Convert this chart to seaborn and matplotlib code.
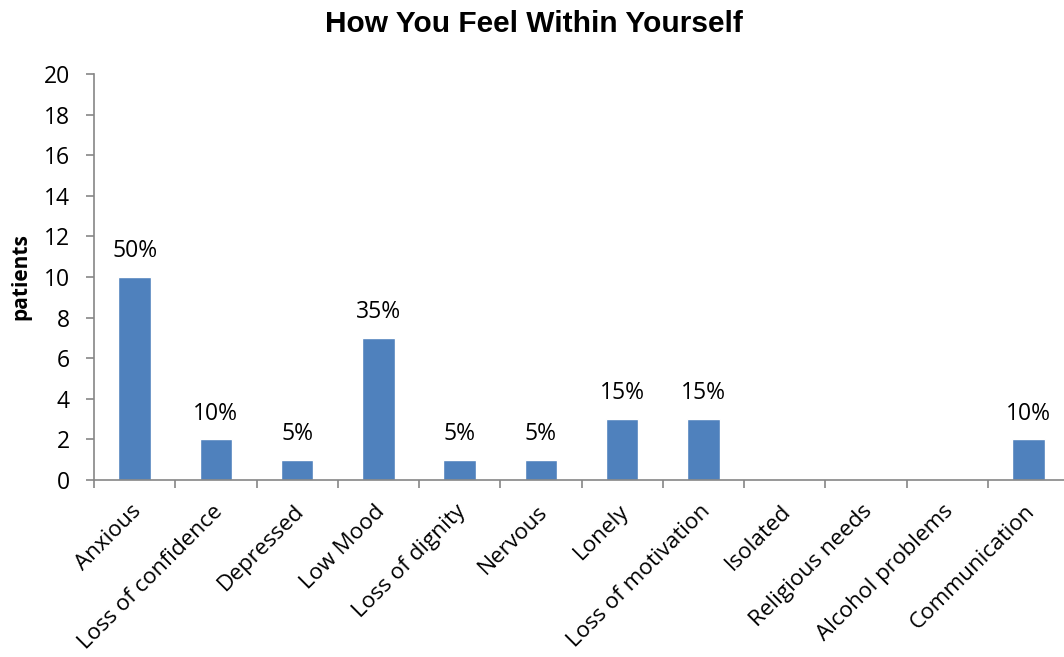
import matplotlib
matplotlib.use("Agg")
import matplotlib.pyplot as plt
from matplotlib.ticker import FixedLocator, MultipleLocator
from matplotlib.transforms import ScaledTranslation
import seaborn as sns
import pandas as pd

categories = ["Anxious", "Loss of confidence", "Depressed", "Low Mood",
              "Loss of dignity", "Nervous", "Lonely", "Loss of motivation",
              "Isolated", "Religious needs", "Alcohol problems", "Communication"]
patients = [10, 2, 1, 7, 1, 1, 3, 3, 0, 0, 0, 2]
total_patients = 20

title_text = "How You Feel Within Yourself"
y_label = "patients"

bar_color = "#4F81BD"
axis_color = "#868686"

sns.set_theme(style="white")
plt.rcParams["font.family"] = ["Open Sans", "DejaVu Sans"]
plt.rcParams["text.color"] = "black"
plt.rcParams["xtick.color"] = "black"
plt.rcParams["ytick.color"] = "black"
plt.rcParams["axes.labelcolor"] = "black"

df = pd.DataFrame({"category": categories, "patients": patients})

fig = plt.figure(figsize=(10.64, 6.57), dpi=100)
ax = fig.add_axes([94 / 1064, 1 - 480 / 657, 975 / 1064, 406 / 657])

sns.barplot(data=df, x="category", y="patients", color=bar_color,
            width=0.4, saturation=1, ax=ax)

ax.set_xlim(-0.5, len(categories) - 0.5)
ax.set_ylim(0, 20)
ax.yaxis.set_major_locator(MultipleLocator(2))

# value labels as share of all patients
for i, v in enumerate(patients):
    if v > 0:
        ax.annotate(f"{v / total_patients * 100:.0f}%", (i, v),
                    xytext=(0, 10), textcoords="offset points",
                    ha="center", va="bottom", fontsize=16.5, color="black")

# category separators as tick marks
ax.xaxis.set_minor_locator(FixedLocator([k - 0.5 for k in range(len(categories) + 1)]))
ax.tick_params(axis="x", which="major", length=0, pad=15)
ax.tick_params(axis="x", which="minor", length=6, width=1.2, color=axis_color,
               direction="out", bottom=True)
ax.tick_params(axis="y", which="major", length=6, width=1.2, color=axis_color,
               direction="out", left=True, labelsize=16.5, pad=11.5, labelcolor="black")
shift = ScaledTranslation(-4 / 100, 0, fig.dpi_scale_trans)
for lbl in ax.get_xticklabels():
    lbl.set_rotation(45)
    lbl.set_ha("right")
    lbl.set_rotation_mode("anchor")
    lbl.set_fontsize(16.2)
    lbl.set_color("black")
    lbl.set_transform(lbl.get_transform() + shift)

for side in ["top", "right"]:
    ax.spines[side].set_visible(False)
for side in ["left", "bottom"]:
    ax.spines[side].set_color(axis_color)
    ax.spines[side].set_linewidth(1.2)

ax.set_xlabel("")
ax.set_ylabel(y_label, fontsize=15, fontweight="bold", color="black", labelpad=9)
fig.text(0.502, 1 - 24 / 657, title_text, ha="center", va="center",
         fontsize=21.5, fontweight="bold", color="black",
         family=["Liberation Sans", "DejaVu Sans"])

fig.savefig("out.png", dpi=100)
